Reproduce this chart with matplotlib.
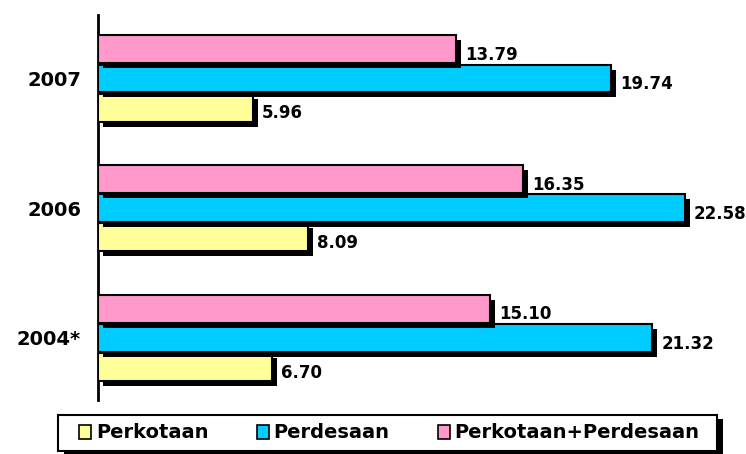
import numpy as np
import matplotlib
matplotlib.use("Agg")
import matplotlib.pyplot as plt
import matplotlib.patheffects as pe
from matplotlib.patches import Patch, Rectangle

years = ["2004*", "2006", "2007"]
perkotaan = [6.70, 8.09, 5.96]
perdesaan = [21.32, 22.58, 19.74]
gabungan = [15.10, 16.35, 13.79]

series = [("Perkotaan", perkotaan, "#FFFF99"),
          ("Perdesaan", perdesaan, "#00CCFF"),
          ("Perkotaan+Perdesaan", gabungan, "#FF99CC")]

W, H = 746, 454
fig = plt.figure(figsize=(W / 100, H / 100), dpi=100)
ax = fig.add_axes([0.131, 0.119, 0.807, 0.848])

y = np.arange(len(years))
h = 0.215
shadow = [pe.SimplePatchShadow(offset=(3.6, -3.6), shadow_rgbFace="black", alpha=1), pe.Normal()]

for i, (name, vals, col) in enumerate(series):
    pos = y + (i - 1) * 0.225
    bars = ax.barh(pos, vals, height=h, color=col, edgecolor="black", linewidth=1.5, zorder=3)
    for b in bars:
        b.set_path_effects(shadow)
    for p, v in zip(pos, vals):
        ax.text(v + 0.35, p - 0.045, f"{v:.2f}", va="center", ha="left",
                fontsize=12, fontweight="bold", zorder=4)

ax.set_xlim(0, 23.15)
ax.set_ylim(-0.48, 2.49)
ax.set_yticks(y)
ax.set_yticklabels(years, fontsize=14, fontweight="bold")
ax.set_xticks([])
ax.tick_params(axis="y", length=0, pad=12)
for s in ["top", "right", "bottom"]:
    ax.spines[s].set_visible(False)
ax.spines["left"].set_linewidth(2)

# legend box drawn by hand so it spans the width like the original
box = Rectangle((58 / W, 3 / H), 659 / W, 36 / H, transform=fig.transFigure,
                facecolor="white", edgecolor="black", linewidth=1.5,
                path_effects=[pe.SimplePatchShadow(offset=(4, -3), shadow_rgbFace="black", alpha=1), pe.Normal()])
fig.patches.append(box)

handles = [Patch(facecolor=c, edgecolor="black", linewidth=1.2, label=n) for n, _, c in series]
leg = fig.legend(handles=handles, loc="center", bbox_to_anchor=(0.522, 21 / H), ncol=3,
                 frameon=False, prop={"weight": "bold", "size": 14},
                 handlelength=0.6, handleheight=0.7, handletextpad=0.25,
                 columnspacing=2.5, borderpad=0.2)

fig.savefig("out.png", dpi=100)
